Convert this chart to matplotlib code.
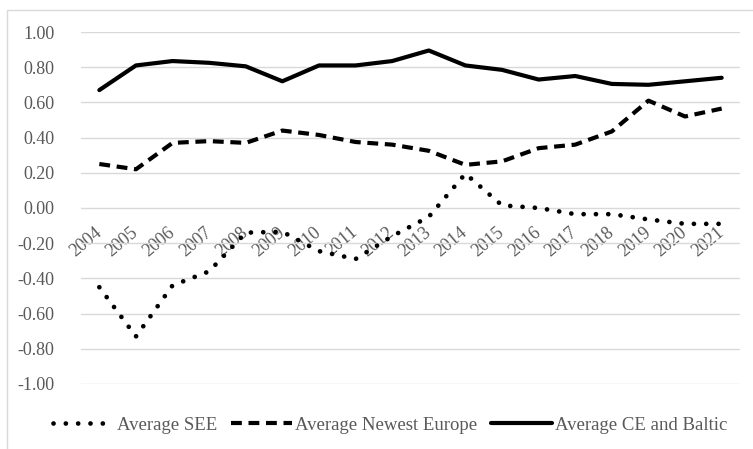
import matplotlib.pyplot as plt
from matplotlib.patches import Rectangle

plt.rcParams['font.family'] = ['Liberation Serif', 'DejaVu Serif']

years = [str(y) for y in range(2004, 2022)]

avg_see = [-0.45, -0.73, -0.44, -0.36, -0.14, -0.135, -0.245, -0.29, -0.16, -0.05,
           0.195, 0.015, 0.0, -0.035, -0.035, -0.065, -0.09, -0.09]
avg_newest = [0.25, 0.22, 0.37, 0.38, 0.37, 0.44, 0.415, 0.375, 0.36, 0.325,
              0.245, 0.265, 0.34, 0.36, 0.435, 0.61, 0.52, 0.565]
avg_ce_baltic = [0.67, 0.81, 0.835, 0.825, 0.805, 0.72, 0.81, 0.81, 0.835, 0.895,
                 0.81, 0.785, 0.73, 0.75, 0.705, 0.70, 0.72, 0.74]

yticks = [-1.0, -0.8, -0.6, -0.4, -0.2, 0.0, 0.2, 0.4, 0.6, 0.8, 1.0]

txt = '#595959'
fs = 13

fig = plt.figure(figsize=(7.53, 4.49), dpi=100)
ax = fig.add_axes([0.1076, 0.1448, 0.8751, 0.7839])

# light border round the whole chart area
fig.patches.append(Rectangle((7 / 753, -0.1), 2, 1 - 10 / 449 + 0.1, transform=fig.transFigure,
                             fill=False, edgecolor='#d9d9d9', linewidth=1.0))

x = list(range(len(years)))
ax.plot(x, avg_see, color='black', linewidth=3.4, linestyle=(0, (0.01, 2.6)),
        dash_capstyle='round', label='Average SEE')
ax.plot(x, avg_newest, color='black', linewidth=3.0, linestyle=(0, (2.6, 1.6)),
        label='Average Newest Europe')
ax.plot(x, avg_ce_baltic, color='black', linewidth=3.0, solid_capstyle='round',
        label='Average CE and Baltic')

ax.set_xlim(-0.5, len(years) - 0.5)
ax.set_ylim(-1.0, 1.0)
ax.set_yticks(yticks)
ax.set_yticklabels([f'{v:.2f}' for v in yticks])
ax.yaxis.grid(True, color='#d9d9d9', linewidth=1.0)
ax.set_axisbelow(True)

# category labels hang off the zero line
ax.spines['bottom'].set_position(('data', 0))
for s in ax.spines.values():
    s.set_visible(False)

ax.set_xticks(x)
ax.set_xticklabels(years, rotation=40, ha='right', va='center', rotation_mode='anchor')
ax.tick_params(axis='x', length=0, pad=16, labelsize=fs, labelcolor=txt)
ax.tick_params(axis='y', length=0, pad=19, labelsize=fs, labelcolor=txt)

fig.legend(loc='center', bbox_to_anchor=(0.518, 1 - 425 / 449), ncol=3, frameon=False,
           fontsize=fs + 0.5, handlelength=3.3, handletextpad=0.15, columnspacing=0.7,
           labelcolor=txt)

fig.savefig('out.png', dpi=100)
